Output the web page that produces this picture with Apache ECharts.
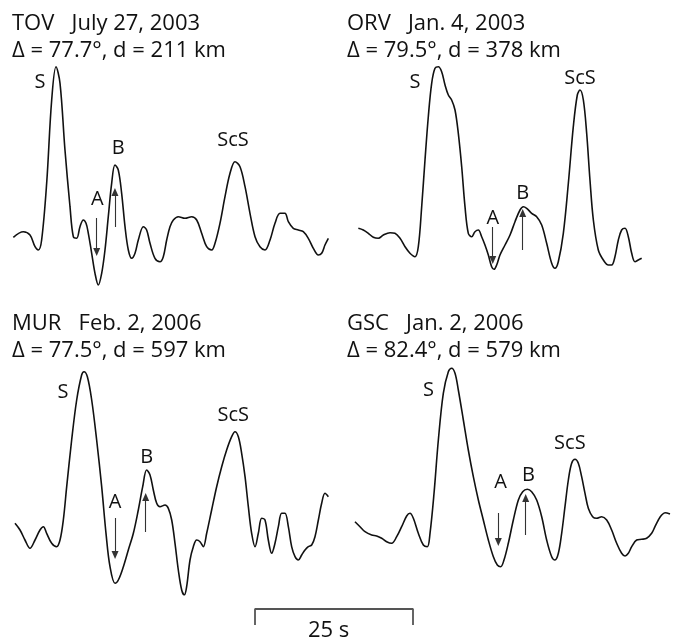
<!DOCTYPE html>
<html>
<head>
<meta charset="utf-8">
<script src="https://cdn.jsdelivr.net/npm/echarts@6/dist/echarts.min.js"></script>
<style>
  html, body { margin: 0; padding: 0; background: #fff; }
  #chart { width: 677px; height: 637px; }
</style>
</head>
<body>
<div id="chart"></div>
<script>
// Transverse-component S waveforms; time in seconds from trace start, amplitude in relative units.
const tovTrace = [[0.21,2.7],[1.78,8.3],[2.83,5],[3.62,-6.7],[4.14,-10],[4.66,0],[5.45,56.7],[6.24,140],[6.92,173.3],[7.55,156.7],[8.33,90],[9.12,33.3],[9.64,3.3],[10.17,1.7],[10.69,13.3],[11.21,20],[11.64,16.7],[12.0,6.7],[12.53,-13.3],[13.05,-33.3],[13.57,-45],[14.1,-33.3],[14.62,-10],[15.14,23.3],[15.67,56.7],[16.19,75],[16.71,70],[17.24,46.7],[17.77,13.3],[18.29,-10],[18.82,-18.3],[19.34,-13.3],[19.86,0],[20.65,13.3],[21.17,10],[21.7,-3.3],[22.48,-18.3],[23.27,-21.7],[23.79,-16.7],[24.32,0],[24.84,13.3],[25.37,20],[26.15,23.3],[27.2,21.7],[28.25,23.3],[29.04,20],[29.82,6.7],[30.61,-6.7],[31.4,-10],[31.92,-3.3],[32.7,16.7],[33.49,43.3],[34.28,66.7],[35.06,78.3],[35.85,73.3],[36.64,53.3],[37.42,26.7],[38.21,3.3],[38.99,-6.7],[39.78,-10],[40.57,0],[41.35,16.7],[42.14,26.7],[42.92,26.7],[43.45,18.3],[44.23,11.7],[45.02,10],[45.8,8.3],[46.59,1.7],[47.38,-8.3],[48.16,-15],[48.69,-13.3],[49.21,-5],[49.74,1.7]];

const orvTrace = [[0.84,11.7],[1.62,10],[2.41,6.7],[3.2,2.7],[3.98,1.7],[4.77,5],[5.82,7.3],[6.6,6.7],[7.39,1.7],[8.18,-6.7],[8.96,-13.3],[9.75,-16.7],[10.27,-6.7],[10.8,33.3],[11.32,80],[11.84,123.3],[12.37,156.7],[12.89,171.7],[13.42,173.3],[13.94,168.3],[14.47,155],[14.99,145],[15.51,140],[16.04,130],[16.56,106.7],[17.09,73.3],[17.61,33.3],[18.13,6.7],[18.66,3.3],[19.18,8.3],[19.71,10],[20.23,3.3],[20.75,-5],[21.28,-15],[21.8,-26.7],[22.17,-29.3],[22.59,-25],[23.11,-15],[23.9,-5],[24.69,5],[25.47,18.3],[26.26,30],[26.78,33.3],[27.31,31.7],[28.09,26.7],[28.88,23.3],[29.67,15],[30.45,-3.3],[31.24,-23.3],[31.76,-28.3],[32.28,-21.7],[33.07,6.7],[33.86,56.7],[34.64,113.3],[35.27,145],[35.69,150],[36.22,140],[36.74,106.7],[37.26,60],[37.79,20],[38.57,-10],[39.36,-20],[40.15,-25],[40.67,-25],[41.19,-16.7],[41.72,0],[42.24,10],[42.77,11.7],[43.29,3.3],[43.82,-13.3],[44.34,-21.7],[44.86,-20],[45.39,-18.3]];

const murTrace = [[0.47,11.7],[1.26,5],[2.04,-5],[2.83,-13.3],[3.62,-5],[4.4,5],[4.93,8.3],[5.45,1.7],[6.24,-8.3],[7.02,-11.7],[7.55,-5],[8.07,15],[8.6,48.3],[9.38,95],[10.17,135],[10.95,160],[11.32,163.3],[11.85,158.3],[12.53,135],[13.31,95],[14.1,48.3],[14.78,1.7],[15.41,-31.7],[16.2,-48.3],[16.72,-45],[17.51,-31.7],[18.29,-15],[19.08,1.7],[19.86,25],[20.55,48.3],[21.17,65],[21.7,60],[22.22,45],[22.75,31.7],[23.27,28.3],[24.06,30],[24.58,26.7],[25.11,15],[25.63,-8.3],[26.15,-35],[26.68,-55],[27.1,-60],[27.46,-51.7],[27.99,-25],[28.51,-11.7],[29.04,-5],[29.56,-6.7],[30.08,-11.7],[30.61,1.7],[31.39,25],[32.18,48.3],[32.97,68.3],[33.75,85],[34.54,98.3],[35.06,103.3],[35.59,98.3],[36.11,81.7],[36.64,58.3],[37.16,28.3],[37.68,1.7],[38.21,-11.7],[38.73,1.7],[39.26,16.7],[39.78,15],[40.3,-5],[40.83,-18.3],[41.35,-8.3],[41.88,8.3],[42.4,21.7],[42.92,21.7],[43.45,8.3],[43.97,-11.7],[44.5,-21.7],[45.02,-25],[45.55,-20],[46.07,-15],[46.59,-11.7],[47.12,-10],[47.64,-1.7],[48.17,15],[48.69,31.7],[49.21,41.7],[49.74,38.3]];

const gscTrace = [[0.31,13.3],[1.1,8.3],[1.89,3.3],[2.94,0],[3.72,-1],[4.51,-3.3],[5.29,-6.7],[6.08,-8.3],[6.87,-1.7],[7.65,8.3],[8.44,19],[8.96,21.7],[9.49,16.7],[10.27,1.7],[11.06,-10],[11.69,-11.7],[12.11,1.7],[12.74,41.7],[13.42,95],[14.2,141.7],[14.99,163.3],[15.51,166.7],[16.04,161.7],[16.56,145],[17.35,115],[18.13,85],[18.92,58.3],[19.71,35],[20.49,15],[21.28,-5],[22.07,-21.7],[22.69,-30],[23.22,-31.7],[23.74,-25],[24.42,-8.3],[25.21,15],[26.0,35],[26.68,43.3],[27.41,45.7],[28.09,43.3],[28.88,35],[29.67,18.3],[30.45,-5],[31.24,-21.7],[31.76,-25],[32.29,-18.3],[32.81,1.7],[33.33,28.3],[33.86,55],[34.38,71.7],[34.91,75.7],[35.43,71.7],[35.95,58.3],[36.48,41.7],[37.0,26.7],[37.68,18.3],[38.31,16.7],[39.1,18.3],[39.89,15],[40.67,5],[41.46,-8.3],[42.24,-18.3],[42.77,-21],[43.29,-18.3],[43.82,-11.7],[44.6,-5],[45.39,-4.3],[46.17,-3.3],[46.96,1.7],[47.48,8.3],[48.01,15],[48.53,20],[49.06,22.3],[49.84,21]];

// Station headers
const stationNames = ['TOV', 'ORV', 'MUR', 'GSC'];
const eventDates = ['July 27, 2003', 'Jan. 4, 2003', 'Feb. 2, 2006', 'Jan. 2, 2006'];
const distancesDeg = ['77.7', '79.5', '77.5', '82.4'];
const depthsKm = [211, 378, 597, 579];

// Phase label anchors [time, amplitude, name]
const tovPhases = [[4.4, 158, 'S'], [13.4, 41, 'A'], [16.7, 92, 'B'], [34.75, 100, 'ScS']];
const orvPhases = [[9.75, 158, 'S'], [22.0, 22, 'A'], [26.7, 47, 'B'], [35.7, 162, 'ScS']];
const murPhases = [[8.0, 143, 'S'], [16.2, 33, 'A'], [21.2, 78, 'B'], [34.8, 120, 'ScS']];
const gscPhases = [[11.85, 145, 'S'], [23.2, 53, 'A'], [27.6, 60, 'B'], [34.1, 92, 'ScS']];

// Arrival arrows [time, amplitude at tail, amplitude at head]
const tovArrows = [[13.32, 22, -12], [16.19, 13, 48]];
const orvArrows = [[21.97, 13, -20], [26.68, -10, 27]];
const murArrows = [[16.2, 17, -20], [21.02, 3, 38]];
const gscArrows = [[22.85, 22, -7], [27.15, 0, 37]];

const scaleBarSeconds = 25;

const traces = [tovTrace, orvTrace, murTrace, gscTrace];
const phases = [tovPhases, orvPhases, murPhases, gscPhases];
const arrows = [tovArrows, orvArrows, murArrows, gscArrows];

const FONT = '"Open Sans", "Liberation Sans", sans-serif';
const INK = '#111';

const chart = echarts.init(document.getElementById('chart'), null, { renderer: 'canvas' });

const grids = [], xAxes = [], yAxes = [], series = [], graphics = [];
const panelLeft = [12, 353];
const panelTop = [60, 355];
const headerTop = [10, 310];
const headerLeft = [12, 347];

for (let i = 0; i < 4; i++) {
  const col = i % 2, row = Math.floor(i / 2);
  grids.push({ left: panelLeft[col], top: panelTop[row], width: 318, height: 240 });
  xAxes.push({ type: 'value', gridIndex: i, min: 0, max: 50, show: false });
  yAxes.push({ type: 'value', gridIndex: i, min: -60, max: 180, show: false });

  series.push({
    type: 'line', xAxisIndex: i, yAxisIndex: i,
    data: traces[i], smooth: 0.35, showSymbol: false, silent: true,
    lineStyle: { color: INK, width: 1.6 },
    markLine: {
      silent: true, animation: false,
      symbol: ['none', 'triangle'], symbolSize: [7, 8],
      label: { show: false },
      lineStyle: { color: '#333', width: 1.1, type: 'solid' },
      data: arrows[i].map(a => [{ coord: [a[0], a[1]] }, { coord: [a[0], a[2]] }])
    }
  });

  series.push({
    type: 'scatter', xAxisIndex: i, yAxisIndex: i,
    data: phases[i], symbolSize: 0, silent: true,
    itemStyle: { opacity: 1, color: 'transparent' },
    label: {
      show: true, position: 'inside', color: INK, opacity: 1,
      fontFamily: FONT, fontSize: 20,
      formatter: p => p.data[2]
    }
  });

  graphics.push({
    type: 'text', left: headerLeft[col], top: headerTop[row],
    style: {
      text: stationNames[i] + '   ' + eventDates[i] + '\n\u0394 = ' + distancesDeg[i] + '\u00b0, d = ' + depthsKm[i] + ' km',
      font: '22px ' + FONT, fill: INK, lineHeight: 27
    }
  });
}

// 25-second scale bracket
grids.push({ left: 255, top: 609, width: 158, height: 16 });
xAxes.push({ type: 'value', gridIndex: 4, min: 0, max: scaleBarSeconds, show: false });
yAxes.push({ type: 'value', gridIndex: 4, min: 0, max: 1, show: false });
series.push({
  type: 'line', xAxisIndex: 4, yAxisIndex: 4, showSymbol: false, silent: true,
  data: [[0, 0], [0, 1], [scaleBarSeconds, 1], [scaleBarSeconds, 0]],
  lineStyle: { color: '#555', width: 1.8 }
});
graphics.push({
  type: 'text', left: 308, top: 620,
  style: { text: scaleBarSeconds + ' s', font: '22px ' + FONT, fill: INK }
});

chart.setOption({
  animation: false,
  backgroundColor: '#fff',
  grid: grids, xAxis: xAxes, yAxis: yAxes,
  series: series,
  graphic: graphics
});
</script>
</body>
</html>
